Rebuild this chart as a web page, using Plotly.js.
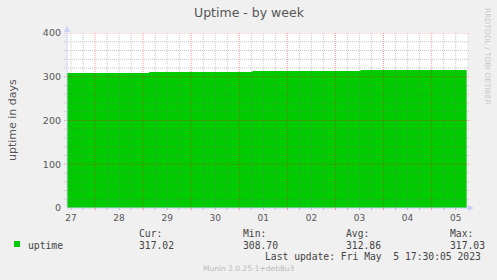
<!DOCTYPE html>
<html><head><meta charset="utf-8">
<script src="https://cdn.plot.ly/plotly-3.0.1.min.js"></script>
<style>html,body{margin:0;padding:0;background:#F0F0F0;}#chart{width:497px;height:280px;}</style>
</head><body><div id="chart"></div>
<script>
// ---- data ----
const times = ['2023-04-27 10:00','2023-04-29 03:00','2023-05-01 06:30','2023-05-03 12:30','2023-05-05 17:30'];
const uptime = [308.7, 311.0, 313.3, 315.6, 315.8];
const dayTicks = ['2023-04-27 12:00','2023-04-28 12:00','2023-04-29 12:00','2023-04-30 12:00','2023-05-01 12:00','2023-05-02 12:00','2023-05-03 12:00','2023-05-04 12:00','2023-05-05 12:00'];
const dayLabels = ['27','28','29','30','01','02','03','04','05'];
const yTicks = [0,100,200,300,400];
const statNames = ['Cur:','Min:','Avg:','Max:'];
const statValues = ['317.02','308.70','312.86','317.03'];
const seriesName = 'uptime';
const lastUpdate = 'Last update: Fri May\u00a0 5 17:30:05 2023';

// ---- layout geometry ----
const W=497,H=280,L=67,R=467,T=33,B=208;
const px = x => (x-L)/(R-L), py = y => (B-y)/(B-T);
const xRange = ['2023-04-27 10:00','2023-05-05 17:40'];
const fmt = ms => new Date(ms).toISOString().slice(0,16).replace('T',' ');
const toMs = s => Date.parse(s.replace(' ','T')+':00Z');

const shapes = [];
const minorC = 'rgba(110,110,110,0.38)', majorC = 'rgba(255,0,0,0.40)';
const dd = '1px,1px';
// vertical grid every 6h, red at midnight
for (let t = toMs('2023-04-27 12:00'); t <= toMs('2023-05-05 17:00'); t += 6*3600e3) {
  const mid = new Date(t).getUTCHours() === 0;
  const c = mid ? majorC : minorC;
  shapes.push({type:'line', layer:'above', xref:'x', yref:'paper', x0:fmt(t), x1:fmt(t), y0:0, y1:1, line:{color:c, width:1, dash:dd}});
  shapes.push({type:'line', layer:'above', xref:'x', yref:'paper', x0:fmt(t), x1:fmt(t), y0:py(B+2), y1:0, line:{color: mid?'rgba(255,0,0,0.5)':'rgba(120,120,120,0.5)', width:1}});
}
// horizontal grid every 20, red at multiples of 100
for (let v = 20; v <= 400; v += 20) {
  const maj = v % 100 === 0;
  shapes.push({type:'line', layer:'above', xref:'paper', yref:'y', x0:px(L-3), x1:px(R+2), y0:v, y1:v, line:{color: maj?majorC:minorC, width:1, dash:dd}});
}
// axis arrows and lines
shapes.push({type:'path', layer:'above', xref:'paper', yref:'paper', path:`M ${px(R+1)} ${py(B-3)} L ${px(R+7)} ${py(B)} L ${px(R+1)} ${py(B+3)} Z`, fillcolor:'#c8d0f8', line:{width:0}});
shapes.push({type:'path', layer:'above', xref:'paper', yref:'paper', path:`M ${px(L-3)} ${py(T-1)} L ${px(L)} ${py(T-7)} L ${px(L+3)} ${py(T-1)} Z`, fillcolor:'#c8d0f8', line:{width:0}});
shapes.push({type:'line', layer:'above', xref:'paper', yref:'paper', x0:0, x1:px(R+2), y0:0, y1:0, line:{color:'#c8d0f0', width:1}});
shapes.push({type:'line', layer:'above', xref:'paper', yref:'paper', x0:0, x1:0, y0:0, y1:py(T-2), line:{color:'#c8d0f0', width:1}});
// legend square
shapes.push({type:'rect', xref:'paper', yref:'paper', x0:px(14), x1:px(20), y0:py(247), y1:py(241), fillcolor:'#00CC00', line:{width:0}});

const mono = {family:'DejaVu Sans Mono', size:9.7, color:'#444'};
const ann = [];
const A = (x,y,text,font,extra) => ann.push(Object.assign({xref:'paper', yref:'paper', x:px(x), y:py(y), text, showarrow:false, font, xanchor:'left', yanchor:'middle'}, extra||{}));
A(249,13,'Uptime - by week',{family:'DejaVu Sans', size:12.5, color:'#555'},{xanchor:'center'});
A(12,120,'uptime in days',{family:'DejaVu Sans', size:11, color:'#555'},{xanchor:'center', textangle:-90});
A(488,56,'RRDTOOL / TOBI OETIKER',{family:'DejaVu Sans', size:7.5, color:'#c8c8c8'},{xanchor:'center', textangle:90});
A(26,245,seriesName,mono);
const statX = [137,241,344,448];
statNames.forEach((n,i)=>A(statX[i],233,n,mono));
statValues.forEach((v,i)=>A(statX[i],245,v,mono));
A(483,256,lastUpdate,mono,{xanchor:'right'});
A(248,268,'Munin 2.0.25-1+deb8u3',{family:'DejaVu Sans', size:7.5, color:'#bbb'},{xanchor:'center'});

const trace = {x: times, y: uptime, type:'scatter', mode:'lines', line:{shape:'hv', width:0, color:'#00CC00'}, fill:'tozeroy', fillcolor:'#00CC00', hoverinfo:'skip'};

const layout = {
  width:W, height:H, margin:{l:L, r:W-R, t:T, b:H-B, pad:0},
  paper_bgcolor:'#F0F0F0', plot_bgcolor:'#FFFFFF', showlegend:false,
  font:{family:'DejaVu Sans', color:'#555'},
  xaxis:{type:'date', range:xRange, tickmode:'array', tickvals:dayTicks, ticktext:dayLabels, showgrid:false, zeroline:false, ticks:'', showline:false, ticklabelstandoff:3, tickfont:{size:9, color:'#555'}, fixedrange:true},
  yaxis:{range:[0,400], tickmode:'array', tickvals:yTicks, ticktext:yTicks.map(String), showgrid:false, zeroline:false, ticks:'', ticklen:0, showline:false, ticklabelstandoff:5, tickfont:{size:9.5, color:'#555'}, fixedrange:true},
  shapes, annotations: ann
};
Plotly.newPlot('chart',[trace],layout,{staticPlot:true, displayModeBar:false});
</script></body></html>
